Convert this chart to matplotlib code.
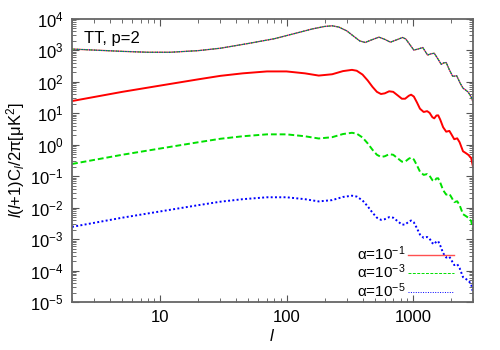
import numpy as np
import matplotlib
matplotlib.use("Agg")
import matplotlib.pyplot as plt
from matplotlib.ticker import LogLocator, NullFormatter, FuncFormatter

plt.rcParams['font.family'] = ['Liberation Sans', 'DejaVu Sans']
plt.rcParams['mathtext.fontset'] = 'custom'
plt.rcParams['mathtext.rm'] = 'Liberation Sans'
plt.rcParams['mathtext.it'] = 'Liberation Sans:italic'

# total spectrum (upper curves, almost identical for all alpha)
l_tot = [2, 3, 5, 8, 12, 20, 30, 50, 80, 120, 160, 200, 230, 260, 300, 340, 380,
         420, 470, 540, 600, 665, 740, 830, 880, 940, 1020, 1100, 1200, 1310,
         1400, 1480, 1580, 1680, 1760, 1840, 1950, 2070, 2230, 2380, 2500,
         2620, 2750, 2900, 3000]
tot_a1 = [1100, 1020, 930, 870, 870, 980, 1170, 1660, 2340, 3550, 4790, 5750,
          6030, 5500, 4170, 2820, 2000, 1780, 2140, 2630, 2240, 1820, 2140,
          2570, 2300, 1600, 1020, 1100, 1230, 710, 780, 810, 540, 360, 400,
          410, 240, 150, 155, 89, 63, 55, 47, 33, 23]
tot_a3 = tot_a1
tot_a5 = tot_a1

# alpha-dependent contribution (lower curves)
l_part = [2, 3, 5, 10, 20, 30, 45, 70, 100, 140, 180, 230, 280, 330, 360, 400,
          440, 480, 520, 560, 600, 650, 700, 760, 820, 870, 930, 970, 1020,
          1080, 1140, 1220, 1300, 1360, 1430, 1480, 1540, 1590, 1650, 1740,
          1840, 1950, 2030, 2130, 2250, 2350, 2500, 2620, 2750, 2900, 3000]
part_a1 = [24.5, 33, 48, 76, 120, 155, 186, 214, 214, 186, 158, 174, 219, 240,
           225, 170, 110, 69, 48, 41, 43, 50, 48, 37, 29, 29, 36, 39, 34, 22,
           14, 11, 11.7, 10.3, 7.5, 6.9, 8.5, 8.6, 6.3, 3.6, 2.6, 2.75, 2.1,
           1.5, 1.6, 1.2, 0.62, 0.55, 0.48, 0.38, 0.2]
part_a3 = [0.245, 0.33, 0.48, 0.76, 1.20, 1.55, 1.86, 2.14, 2.14, 1.86, 1.58,
           1.74, 2.19, 2.40, 2.25, 1.70, 1.10, 0.69, 0.48, 0.41, 0.43, 0.50,
           0.48, 0.37, 0.29, 0.29, 0.36, 0.39, 0.34, 0.22, 0.14, 0.11, 0.117,
           0.103, 0.075, 0.069, 0.085, 0.086, 0.063, 0.036, 0.026, 0.0275,
           0.021, 0.015, 0.016, 0.012, 0.0062, 0.0055, 0.0048, 0.0038, 0.002]
part_a5 = [0.00245, 0.0033, 0.0048, 0.0076, 0.0120, 0.0155, 0.0186, 0.0214,
           0.0214, 0.0186, 0.0158, 0.0174, 0.0219, 0.0240, 0.0225, 0.0170,
           0.0110, 0.0069, 0.0048, 0.0041, 0.0043, 0.0050, 0.0048, 0.0037,
           0.0029, 0.0029, 0.0036, 0.0039, 0.0034, 0.0022, 0.0014, 0.0011,
           0.00117, 0.00103, 0.00075, 0.00069, 0.00085, 0.00086, 0.00063,
           0.00036, 0.00026, 0.000275, 0.00021, 0.00015, 0.00016, 0.00012,
           6.2e-5, 5.5e-5, 4.8e-5, 3.8e-5, 2.0e-5]

labels = ['α=10$^{-1}$', 'α=10$^{-3}$', 'α=10$^{-5}$']

fig = plt.figure(figsize=(5, 3.5), dpi=100)
ax = fig.add_axes([0.144, 0.137, 0.802, 0.809])

ax.plot(l_part, part_a1, color='#ff0000', lw=1.4, ls='-', solid_joinstyle='round')
ax.plot(l_part, part_a3, color='#00e000', lw=1.4, ls=(0, (3, 1.5)))
ax.plot(l_part, part_a5, color='#0000ff', lw=1.4, ls=(0, (1, 1.2)))

ax.plot(l_tot, tot_a1, color='#ff5050', lw=1.0, ls='-', label=labels[0])
ax.plot(l_tot, tot_a3, color='#00e000', lw=0.7, ls=(0, (3, 1.5)), label=labels[1])
ax.plot(l_tot, tot_a5, color='#0000ff', lw=0.7, ls=(0, (1, 1.5)), label=labels[2])

ax.set_xscale('log')
ax.set_yscale('log')
ax.set_xlim(2, 3000)
ax.set_ylim(1e-5, 1e4)
ax.xaxis.set_major_formatter(FuncFormatter(lambda v, p: '%g' % v))
ax.xaxis.set_minor_formatter(NullFormatter())
ax.yaxis.set_major_locator(LogLocator(base=10, numticks=20))
ax.yaxis.set_minor_locator(LogLocator(base=10, subs=np.arange(2, 10), numticks=20))
ax.yaxis.set_minor_formatter(NullFormatter())

ax.tick_params(which='both', direction='in', top=True, right=True,
               labelsize=12, color='#555555')
ax.tick_params(which='major', length=5, pad=6)
ax.tick_params(which='minor', length=3)
for s in ax.spines.values():
    s.set_color('#666666')
    s.set_linewidth(1.3)

ax.set_xlabel('$l$', fontsize=12, labelpad=2)
ax.set_ylabel('$l$($l$+1)C$_l$/2π[μK$^2$]', fontsize=12, labelpad=2)

ax.text(0.03, 0.93, 'TT, p=2', transform=ax.transAxes, fontsize=12,
        va='center', ha='left')

ax.legend(loc='lower right', markerfirst=False, frameon=False, fontsize=11,
          handlelength=3.0, handletextpad=0.2, labelspacing=0.0,
          borderaxespad=0.1, bbox_to_anchor=(0.972, -0.02))

fig.savefig('out.png', dpi=100)
